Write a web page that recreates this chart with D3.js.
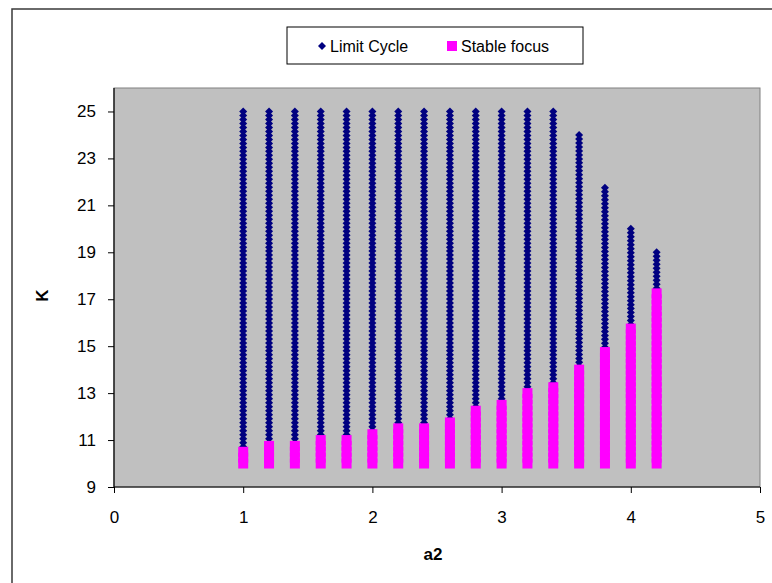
<!DOCTYPE html>
<html><head><meta charset="utf-8">
<script src="https://cdn.jsdelivr.net/npm/d3@7/dist/d3.min.js"></script>
<style>body{margin:0;background:#fff;}svg{display:block;font-family:"Liberation Sans",Arial,sans-serif;}</style>
</head><body>
<svg id="c" width="772" height="583"></svg>
<script>
// Data
const a2Values   = [1.0, 1.2, 1.4, 1.6, 1.8, 2.0, 2.2, 2.4, 2.6, 2.8, 3.0, 3.2, 3.4, 3.6, 3.8, 4.0, 4.2];
const focusTopK  = [10.5, 10.75, 10.75, 11, 11, 11.25, 11.5, 11.5, 11.75, 12.25, 12.5, 13, 13.25, 14, 14.75, 15.75, 17.25];
const cycleTopK  = [25, 25, 25, 25, 25, 25, 25, 25, 25, 25, 25, 25, 25, 24, 21.75, 20, 19];
const kStart = 10;
const focusStep = 0.25;
const cycleStep = 0.17;
const xTicks = [0, 1, 2, 3, 4, 5];
const yTicks = [9, 11, 13, 15, 17, 19, 21, 23, 25];
const seriesNames = ["Limit Cycle", "Stable focus"];

// Build point lists from column ranges
const focusPts = [], cyclePts = [];
a2Values.forEach((a, i) => {
  const nF = Math.round((focusTopK[i] - kStart) / focusStep);
  for (let j = 0; j <= nF; j++) focusPts.push({a2: a, K: kStart + j * focusStep});
  for (let k = cycleTopK[i]; k > focusTopK[i]; k -= cycleStep) cyclePts.push({a2: a, K: k});
});

const svg = d3.select("#c");
const L = 114, R = 760, T = 88, B = 487;
const x = d3.scaleLinear().domain([0, 5]).range([L, R]);
const y = d3.scaleLinear().domain([9, 26]).range([B, T]);

// outer chart border
svg.append("rect").attr("x", 12).attr("y", 9).attr("width", 780).attr("height", 600)
  .attr("fill", "#fff").attr("stroke", "#3a3a3a").attr("stroke-width", 1.5);

// plot area
svg.append("rect").attr("x", L).attr("y", T).attr("width", R - L).attr("height", B - T)
  .attr("fill", "#c0c0c0").attr("stroke", "#808080").attr("stroke-width", 1);

// axes
const xAxis = d3.axisBottom(x).tickValues(xTicks).tickSize(6).tickPadding(18).tickFormat(d3.format("d"));
const yAxis = d3.axisLeft(y).tickValues(yTicks).tickSize(6).tickPadding(12).tickFormat(d3.format("d"));
const gx = svg.append("g").attr("transform", `translate(0,${B})`).call(xAxis);
const gy = svg.append("g").attr("transform", `translate(${L},0)`).call(yAxis);
[gx, gy].forEach(g => {
  g.select(".domain").attr("stroke", "#000").attr("stroke-width", 1.2);
  g.selectAll(".tick line").attr("stroke", "#000");
  g.selectAll(".tick text").attr("font-size", 17).attr("fill", "#000")
    .attr("font-family", "'Liberation Sans',Arial,sans-serif");
});
gy.select(".domain").attr("d", `M0,${T}V${B}`);
gx.select(".domain").attr("d", `M${L},0H${R}`);

// axis titles
svg.append("text").attr("x", (L + R) / 2 - 4).attr("y", 560).attr("text-anchor", "middle")
  .attr("font-size", 17).attr("font-weight", "bold").text("a2");
svg.append("text").attr("transform", `translate(48,${(T + B) / 2 + 8}) rotate(-90)`)
  .attr("text-anchor", "middle").attr("font-size", 17).attr("font-weight", "bold").text("K");

// marks
const dh = 4;
const diamond = `M0,${-dh}L${dh},0L0,${dh}L${-dh},0Z`;
svg.append("g").selectAll("path").data(cyclePts).join("path")
  .attr("transform", d => `translate(${x(d.a2)},${y(d.K)})`)
  .attr("d", diamond).attr("fill", "#000080");
const sq = 10;
svg.append("g").selectAll("rect").data(focusPts).join("rect")
  .attr("x", d => x(d.a2) - sq / 2).attr("y", d => y(d.K) - sq / 2)
  .attr("width", sq).attr("height", sq).attr("fill", "#ff00ff");

// legend
const lg = svg.append("g");
lg.append("rect").attr("x", 287).attr("y", 27).attr("width", 296).attr("height", 37)
  .attr("fill", "#fff").attr("stroke", "#000").attr("stroke-width", 1);
lg.append("path").attr("transform", "translate(322,46)").attr("d", `M0,-4L4,0L0,4L-4,0Z`).attr("fill", "#000080");
lg.append("text").attr("x", 330).attr("y", 52).attr("font-size", 16).text(seriesNames[0]);
lg.append("rect").attr("x", 447).attr("y", 41).attr("width", 10).attr("height", 10).attr("fill", "#ff00ff");
lg.append("text").attr("x", 461).attr("y", 52).attr("font-size", 16).text(seriesNames[1]);
</script>
</body></html>
